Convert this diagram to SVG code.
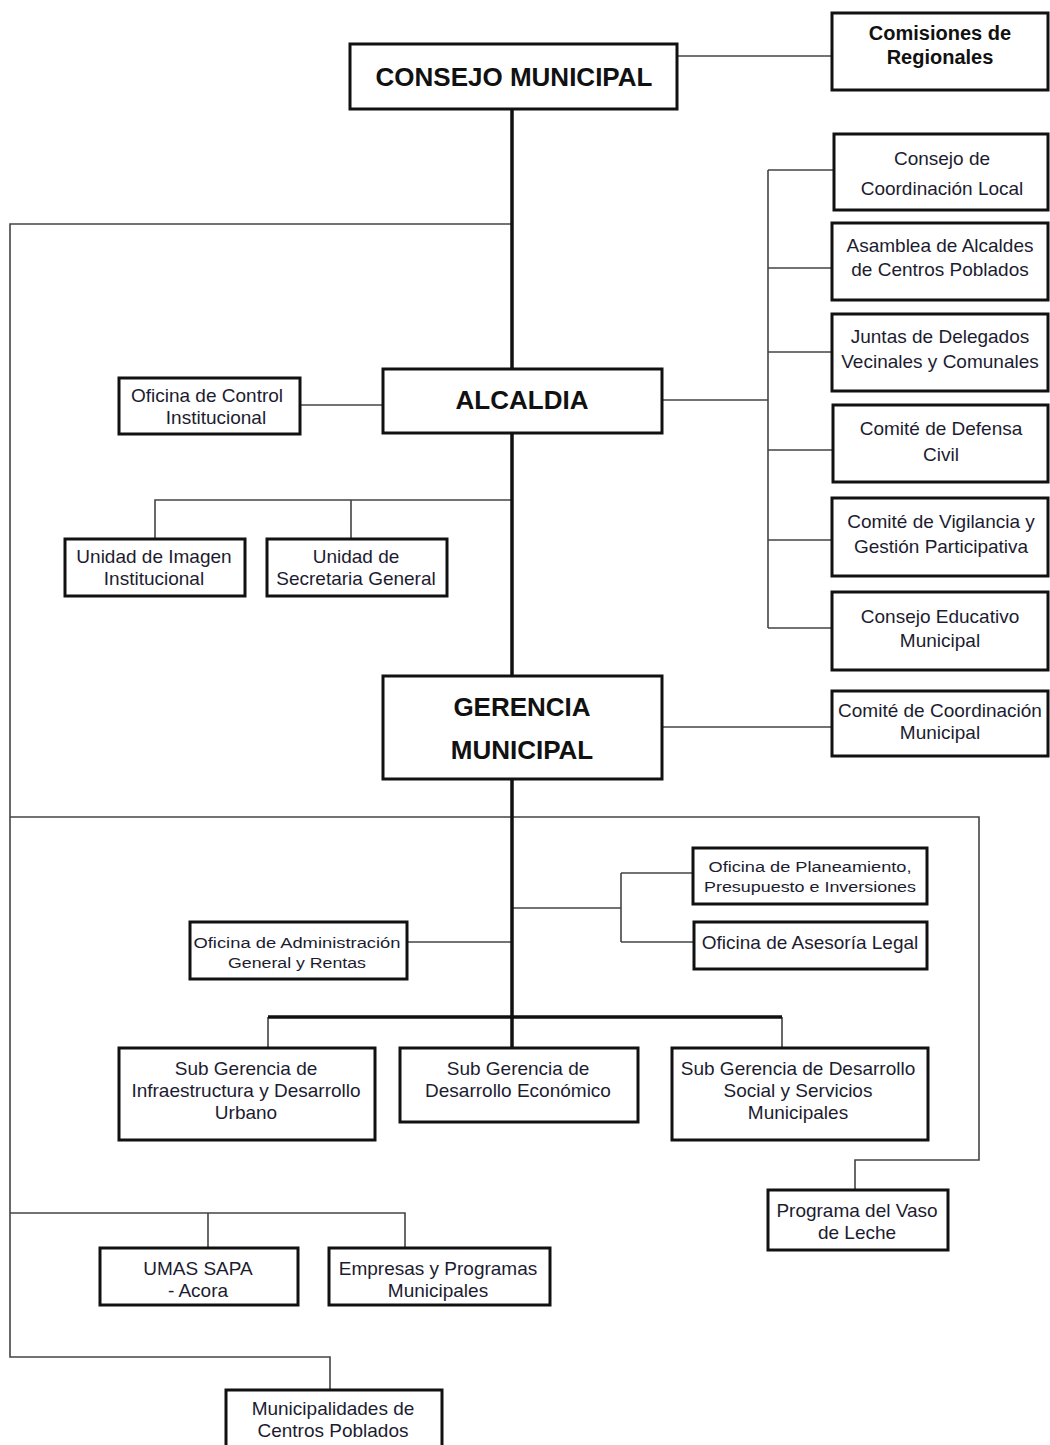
<svg xmlns="http://www.w3.org/2000/svg" width="1050" height="1445" viewBox="0 0 1050 1445">
<style>
.b{fill:#fff;stroke:#111;stroke-width:3}
.t{font-family:"Liberation Sans",Arial,sans-serif;font-size:19px;fill:#1c1c30;text-anchor:middle}
.s{font-size:14px}
.h{font-weight:bold;font-size:26px;fill:#111}
.hb{font-weight:bold;font-size:20px;fill:#111}
.c{fill:none;stroke:#444;stroke-width:1.6}
.k{fill:none;stroke:#111;stroke-width:3.5}
</style>
<rect width="1050" height="1445" fill="#fff"/>
<g id="connectors">
<path class="c" d="M677 56H832"/>
<path class="c" d="M512 224H10V1357H330V1390"/>
<path class="c" d="M10 817H979V1160H855V1190"/>
<path class="c" d="M10 1213H405V1248M208 1213V1248"/>
<path class="c" d="M662 400H768M768 170V628M768 170H834M768 268H832M768 352H832M768 450H833M768 540H832M768 628H832"/>
<path class="c" d="M300 405H383"/>
<path class="c" d="M512 500H155V539M351 500V539"/>
<path class="c" d="M662 727H832"/>
<path class="c" d="M512 908H621M621 873V942M621 873H693M621 942H694"/>
<path class="c" d="M407 942H512"/>
<path class="c" d="M268 1017V1048M782 1017V1048"/>
<path class="k" d="M268 1017H782"/>
<path class="k" d="M512 109V369M512 433V676M512 779V1048"/>
</g>
<g id="consejo"><rect class="b" x="350" y="44" width="327" height="65"/><text class="t h" x="514" y="86">CONSEJO MUNICIPAL</text></g>
<g id="comisiones"><rect class="b" x="832" y="13" width="216" height="77"/><text class="t hb" x="940" y="40">Comisiones de</text><text class="t hb" x="940" y="64">Regionales</text></g>
<g id="ccl"><rect class="b" x="834" y="134" width="214" height="76"/><text class="t" x="942" y="165">Consejo de</text><text class="t" x="942" y="195">Coordinación Local</text></g>
<g id="asamblea"><rect class="b" x="832" y="223" width="216" height="77"/><text class="t" x="940" y="252">Asamblea de Alcaldes</text><text class="t" x="940" y="276">de Centros Poblados</text></g>
<g id="juntas"><rect class="b" x="832" y="314" width="216" height="77"/><text class="t" x="940" y="343">Juntas de Delegados</text><text class="t" x="940" y="368">Vecinales y Comunales</text></g>
<g id="defensa"><rect class="b" x="833" y="405" width="215" height="77"/><text class="t" x="941" y="435">Comité de Defensa</text><text class="t" x="941" y="461">Civil</text></g>
<g id="vigilancia"><rect class="b" x="832" y="498" width="216" height="78"/><text class="t" x="941" y="528">Comité de Vigilancia y</text><text class="t" x="941" y="553">Gestión Participativa</text></g>
<g id="educativo"><rect class="b" x="832" y="592" width="216" height="78"/><text class="t" x="940" y="623">Consejo Educativo</text><text class="t" x="940" y="647">Municipal</text></g>
<g id="ccm"><rect class="b" x="832" y="691" width="216" height="65"/><text class="t" x="940" y="717">Comité de Coordinación</text><text class="t" x="940" y="739">Municipal</text></g>
<g id="alcaldia"><rect class="b" x="383" y="369" width="279" height="64"/><text class="t h" x="522" y="409">ALCALDIA</text></g>
<g id="control"><rect class="b" x="119" y="378" width="181" height="56"/><text class="t" x="207" y="402">Oficina de Control</text><text class="t" x="216" y="424">Institucional</text></g>
<g id="imagen"><rect class="b" x="65" y="539" width="180" height="57"/><text class="t" x="154" y="563">Unidad de Imagen</text><text class="t" x="154" y="585">Institucional</text></g>
<g id="secretaria"><rect class="b" x="267" y="539" width="180" height="57"/><text class="t" x="356" y="563">Unidad de</text><text class="t" x="356" y="585">Secretaria General</text></g>
<g id="gerencia"><rect class="b" x="383" y="676" width="279" height="103"/><text class="t h" x="522" y="716">GERENCIA</text><text class="t h" x="522" y="759">MUNICIPAL</text></g>
<g id="planeamiento"><rect class="b" x="693" y="848" width="234" height="56"/><text class="t s" x="810" y="872" textLength="203" lengthAdjust="spacingAndGlyphs">Oficina de Planeamiento,</text><text class="t s" x="810" y="892" textLength="212" lengthAdjust="spacingAndGlyphs">Presupuesto e Inversiones</text></g>
<g id="legal"><rect class="b" x="694" y="922" width="233" height="47"/><text class="t" x="810" y="949">Oficina de Asesoría Legal</text></g>
<g id="administracion"><rect class="b" x="190" y="922" width="217" height="57"/><text class="t s" x="297" y="948" textLength="207" lengthAdjust="spacingAndGlyphs">Oficina de Administración</text><text class="t s" x="297" y="968" textLength="138" lengthAdjust="spacingAndGlyphs">General y Rentas</text></g>
<g id="sg-infra"><rect class="b" x="119" y="1048" width="256" height="92"/><text class="t" x="246" y="1075">Sub Gerencia de</text><text class="t" x="246" y="1097">Infraestructura y Desarrollo</text><text class="t" x="246" y="1119">Urbano</text></g>
<g id="sg-eco"><rect class="b" x="400" y="1048" width="238" height="74"/><text class="t" x="518" y="1075">Sub Gerencia de</text><text class="t" x="518" y="1097">Desarrollo Económico</text></g>
<g id="sg-social"><rect class="b" x="672" y="1048" width="256" height="92"/><text class="t" x="798" y="1075">Sub Gerencia de Desarrollo</text><text class="t" x="798" y="1097">Social y Servicios</text><text class="t" x="798" y="1119">Municipales</text></g>
<g id="vaso"><rect class="b" x="768" y="1190" width="180" height="60"/><text class="t" x="857" y="1217">Programa del Vaso</text><text class="t" x="857" y="1239">de Leche</text></g>
<g id="umas"><rect class="b" x="100" y="1248" width="198" height="57"/><text class="t" x="198" y="1275">UMAS SAPA</text><text class="t" x="198" y="1297">- Acora</text></g>
<g id="empresas"><rect class="b" x="329" y="1248" width="221" height="57"/><text class="t" x="438" y="1275">Empresas y Programas</text><text class="t" x="438" y="1297">Municipales</text></g>
<g id="municipalidades"><rect class="b" x="226" y="1390" width="216" height="60"/><text class="t" x="333" y="1415">Municipalidades de</text><text class="t" x="333" y="1437">Centros Poblados</text></g>
</svg>
